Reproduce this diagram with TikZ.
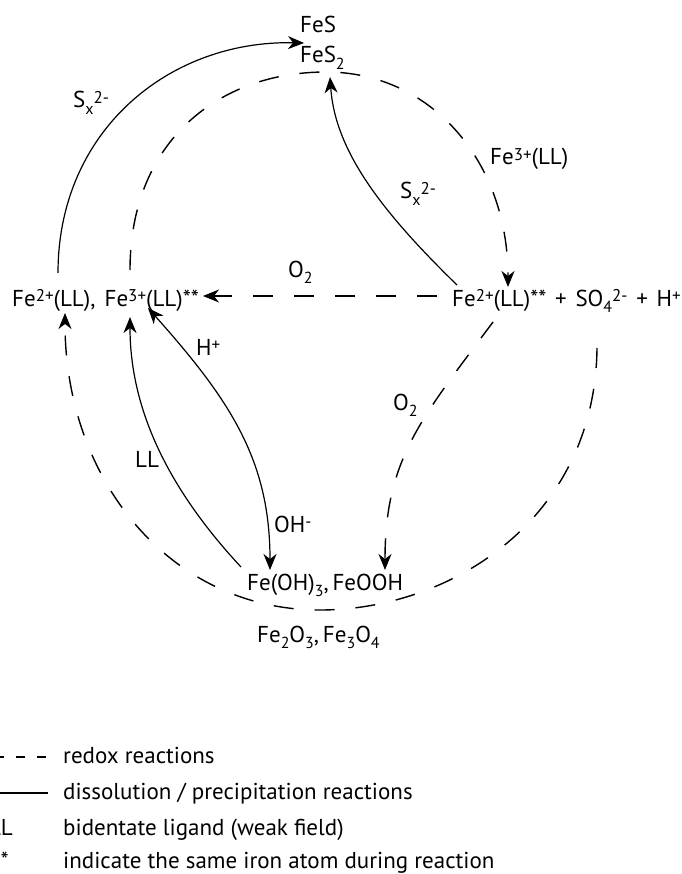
\documentclass[tikz,border=0pt]{standalone}
\usepackage{fontspec}
\setmainfont{PT Sans}
\usetikzlibrary{arrows.meta}
% chemical sub- and superscripts, a little smaller than the text
\newcommand\chsub[1]{\raisebox{-0.3em}{\fontsize{16}{16}\selectfont #1}}
\newcommand\chsup[1]{\raisebox{0.2em}{\fontsize{17}{17}\selectfont #1}}
\newcommand\plussep{\hspace{0.38em}+\hspace{0.38em}}
\begin{document}
\begin{tikzpicture}[x=1pt,y=-1pt,
  every node/.style={inner sep=0pt,font=\fontsize{23}{27}\selectfont},
  redox/.style={line width=1.4pt,dash pattern=on 20pt off 21pt},
  dissol/.style={line width=1.2pt},
  tip/.style={-{Stealth[length=16pt,width=13pt,inset=5pt]}},
  twotips/.style={{Stealth[length=16pt,width=13pt,inset=5pt]}-{Stealth[length=16pt,width=13pt,inset=5pt]}},
  lbl/.style={anchor=base west}]
\useasboundingbox (0,0) rectangle (681,874);

% species
\node[lbl] (fes)   at (300,33)  {FeS};
\node[lbl] (fes2)  at (300,63)  {FeS\chsub{2}};
\node[lbl] (left)  at (12,306)  {Fe\chsup{2+}(LL),\hspace{0.4em}Fe\chsup{3+}(LL)**};
\node[lbl] (right) at (452,306) {Fe\chsup{2+}(LL)**\plussep SO\chsub{4}\chsup{2-}\plussep H\chsup{+}};
\node[lbl] (hydr)  at (247,590) {Fe(OH)\chsub{3},\,FeOOH};
\node[lbl] (oxid)  at (257,642) {Fe\chsub{2}O\chsub{3},\,Fe\chsub{3}O\chsub{4}};

% reaction labels
\node[lbl] (lsx)  at (73,108)  {S\chsub{x}\chsup{2-}};
\node[lbl] (lfe)  at (490,165) {Fe\chsup{3+}(LL)};
\node[lbl] (msx)  at (400,199) {S\chsub{x}\chsup{2-}};
\node[lbl] (to2)  at (288,277) {O\chsub{2}};
\node[lbl] (lh)   at (196,355) {H\chsup{+}};
\node[lbl] (lo2)  at (393,410) {O\chsub{2}};
\node[lbl] (lll)  at (135,467) {LL};
\node[lbl] (loh)  at (274,532) {OH\chsup{-}};

% connector end points
\coordinate (a1) at (58,273);   \coordinate (a2) at (304,43);
\coordinate (b1) at (130,270);  \coordinate (btop) at (326,72); \coordinate (b2) at (508,287);
\coordinate (c1) at (457,285);  \coordinate (c2) at (330,77);
\coordinate (d1) at (437,296);  \coordinate (d2) at (203,296);
\coordinate (e1) at (493,322);  \coordinate (e2) at (385,570);
\coordinate (f1) at (597,348);  \coordinate (fbot) at (320,610); \coordinate (f2) at (65,313);
\coordinate (g1) at (241,567);  \coordinate (g2) at (130,317);
\coordinate (h1) at (148,308);  \coordinate (h2) at (270,570);

% dissolution / precipitation
\draw[dissol,tip] (a1) .. controls (58,130) and (170,40) .. (a2);
\draw[dissol,tip] (c1) .. controls (380,210) and (335,150) .. (c2);
\draw[dissol,tip] (g1) .. controls (160,480) and (130,400) .. (g2);
\draw[dissol,twotips] (h1) .. controls (230,400) and (270,460) .. (h2);

% redox
\draw[redox,tip] (b1) .. controls (130,140) and (220,72) .. (btop)
                      .. controls (430,72) and (508,160) .. (b2);
\draw[redox,tip] (d1) -- (d2);
\draw[redox,tip] (e1) .. controls (420,420) and (385,460) .. (e2);
\draw[redox,tip] (f1) .. controls (595,520) and (450,610) .. (fbot)
                      .. controls (170,610) and (65,480) .. (f2);

% legend
\coordinate (k1) at (46,757);  \coordinate (k2) at (-20,757);
\coordinate (s1) at (0,793);   \coordinate (s2) at (48,793);
\draw[line width=1.3pt,dash pattern=on 9pt off 12pt] (k1) -- (k2);
\draw[dissol] (s1) -- (s2);
\node[lbl] (t1) at (63,763) {redox reactions};
\node[lbl] (t2) at (63,799) {dissolution / precipitation reactions};
\node[anchor=base east] (t3k) at (13,835) {LL};
\node[lbl] (t3) at (63,835) {bidentate ligand (weak field)};
\node[anchor=base east] (t4k) at (9,868) {**};
\node[lbl] (t4) at (63,868) {indicate the same iron atom during reaction};
\end{tikzpicture}
\end{document}
